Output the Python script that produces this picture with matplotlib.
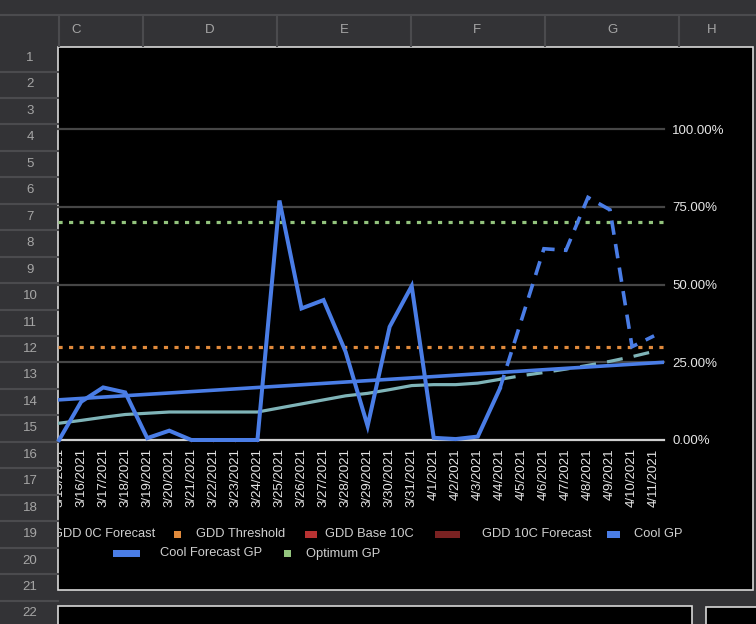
import numpy as np
import matplotlib
matplotlib.use("Agg")
import matplotlib.pyplot as plt
from matplotlib.patches import Rectangle
from matplotlib.ticker import FuncFormatter

plt.rcParams['font.family'] = ['Liberation Sans', 'DejaVu Sans']

# ---- data ----
dates = ['3/15/2021', '3/16/2021', '3/17/2021', '3/18/2021', '3/19/2021', '3/20/2021',
         '3/21/2021', '3/22/2021', '3/23/2021', '3/24/2021', '3/25/2021', '3/26/2021',
         '3/27/2021', '3/28/2021', '3/29/2021', '3/30/2021', '3/31/2021', '4/1/2021',
         '4/2/2021', '4/3/2021', '4/4/2021', '4/5/2021', '4/6/2021', '4/7/2021',
         '4/8/2021', '4/9/2021', '4/10/2021', '4/11/2021']
nan = np.nan

cool_gp = [0.000, 0.123, 0.169, 0.153, 0.006, 0.030, 0.000, 0.000, 0.000, 0.000,
           0.770, 0.423, 0.450, 0.284, 0.045, 0.364, 0.495, 0.007, 0.003, 0.011,
           0.165, nan, nan, nan, nan, nan, nan, nan]
cool_forecast_gp = [nan] * 20 + [0.165, 0.390, 0.615, 0.610, 0.780, 0.740, 0.300, 0.335]
gdd_0c = [0.054, 0.063, 0.073, 0.082, 0.086, 0.090, 0.090, 0.090, 0.090, 0.090,
          0.103, 0.116, 0.129, 0.142, 0.150, 0.162, 0.175, 0.178, 0.178, 0.183,
          0.195, nan, nan, nan, nan, nan, nan, nan]
gdd_0c_forecast = [nan] * 20 + [0.195, 0.207, 0.217, 0.228, 0.240, 0.253, 0.268, 0.285]
gdd_base_10c = [nan] * 6 + [0.0, 0.0, 0.0, 0.0] + [nan] * 18
gdd_threshold = 0.30
optimum_gp = 0.70
cool_trend_ends = [0.129, 0.250]   # linear trendline at the left / right plot edge

legend_row1 = ['GDD 0C Forecast', 'GDD Threshold', 'GDD Base 10C', 'GDD 10C Forecast', 'Cool GP']
legend_row2 = ['Cool Forecast GP', 'Optimum GP']

# colours
BLUE = '#4a7de6'
TEAL = '#7fb4b8'
ORANGE = '#e08a3c'
GREEN = '#93c47d'
RED = '#b83232'
DARKRED = '#7a2222'
SHEET_BG = '#333336'
SHEET_LINE = '#4b4b4e'
SHEET_TXT = '#a6a6a6'

W, H = 756, 624
fig = plt.figure(figsize=(W / 100, H / 100), dpi=100, facecolor=SHEET_BG)

# ==========================================
# spreadsheet background (pixel coordinates)
# ==========================================
bg = fig.add_axes([0, 0, 1, 1], zorder=0)
bg.set_xlim(0, W)
bg.set_ylim(H, 0)
bg.axis('off')

bg.plot([0, W], [15, 15], color=SHEET_LINE, lw=1.5)
for xs in [59, 143, 277, 411, 545, 679]:
    bg.plot([xs, xs], [15, 46], color=SHEET_LINE, lw=1.5)
for letter, xc in zip(['C', 'D', 'E', 'F', 'G', 'H'], [76, 210, 344, 477, 612, 712]):
    bg.text(xc, 30, letter, ha='center', va='center', color=SHEET_TXT, fontsize=9.5)

for k in range(22):
    yc = 58 + 26.45 * k
    bg.text(30, yc, str(k + 1), ha='center', va='center', color=SHEET_TXT, fontsize=9.5)
    bg.plot([0, 58], [yc + 13.5, yc + 13.5], color=SHEET_LINE, lw=1.5)

# chart box and the boxes below it
bg.add_patch(Rectangle((58, 47), 695, 543, facecolor='black', edgecolor='#d8d8d8', lw=1.2))
bg.add_patch(Rectangle((58, 606), 634, 40, facecolor='black', edgecolor='#d8d8d8', lw=1.2))
bg.add_patch(Rectangle((706, 607), 60, 40, facecolor='black', edgecolor='#d8d8d8', lw=1.2))
chart_clip = Rectangle((58.6, 47), 695, 543, transform=bg.transData)

# ---- legend (Google Sheets style, first entry scrolled off) ----
t = bg.text(155, 534, legend_row1[0], ha='right', va='center', color='#d0d0d0', fontsize=9.3)
t.set_clip_on(True)
t.set_clip_path(chart_clip)
row1_swatch = [(ORANGE, 174, 7), (RED, 305, 12), (DARKRED, 435, 25), (BLUE, 607, 13)]
row1_text_x = [196, 325, 482, 634]
for (c, x0, w), name, tx in zip(row1_swatch, legend_row1[1:], row1_text_x):
    bg.add_patch(Rectangle((x0, 530.5), w, 7, facecolor=c, edgecolor='none'))
    bg.text(tx, 534, name, ha='left', va='center', color='#d0d0d0', fontsize=9.3)
row2_swatch = [(BLUE, 113, 27), (GREEN, 284, 7)]
row2_text_x = [160, 306]
for (c, x0, w), name, tx in zip(row2_swatch, legend_row2, row2_text_x):
    bg.add_patch(Rectangle((x0, 550), w, 7, facecolor=c, edgecolor='none'))
    bg.text(tx, 553.5, name, ha='left', va='center', color='#d0d0d0', fontsize=9.3)

# ==========================================
# the line chart
# ==========================================
ax = fig.add_axes([58 / W, 1 - 440 / H, (664 - 58) / W, (440 - 129) / H], zorder=1)
ax.set_facecolor('none')
x = np.arange(len(dates))
ax.set_xlim(-0.05, 27.45)
ax.set_ylim(0, 1.0)

for gv in [0.25, 0.5, 0.75, 1.0]:
    ax.axhline(gv, color='#464646', lw=1.6, zorder=1, clip_on=False)
ax.axhline(0, color='#cfcfcf', lw=1.6, zorder=2, clip_on=False)

ax.axhline(gdd_threshold, color=ORANGE, lw=2.3, linestyle=(0, (1.3, 2.0)), zorder=3)
ax.axhline(optimum_gp, color=GREEN, lw=2.3, linestyle=(0, (1.3, 2.0)), zorder=3)

ax.plot(x, gdd_base_10c, color='#d9707a', lw=1.0, marker='v', ms=3, mew=0,
        zorder=3, clip_on=False)
ax.plot(x, gdd_0c, color=TEAL, lw=2.3, zorder=4, solid_joinstyle='round')
ax.plot(x, gdd_0c_forecast, color=TEAL, lw=2.3, linestyle=(0, (5, 3.5)), zorder=4)
ax.plot(ax.get_xlim(), cool_trend_ends, color=BLUE, lw=2.6, zorder=5)
ax.plot(x, cool_gp, color=BLUE, lw=2.9, zorder=6, clip_on=False, solid_joinstyle='miter')
ax.plot(x, cool_forecast_gp, color=BLUE, lw=2.6, linestyle=(0, (4, 2.6)), zorder=6,
        dash_joinstyle='miter')

for s in ax.spines.values():
    s.set_visible(False)

ax.yaxis.tick_right()
ax.set_yticks([0, 0.25, 0.5, 0.75, 1.0])
ax.yaxis.set_major_formatter(FuncFormatter(lambda v, p: f"{v * 100:.2f}%"))
ax.tick_params(axis='y', length=0, pad=6, labelsize=9.5, labelcolor='#e6e6e6')

ax.set_xticks(x)
ax.set_xticklabels(dates, rotation=90, va='top', ha='center')
ax.tick_params(axis='x', length=0, pad=6, labelsize=9.5, labelcolor='#e6e6e6')
for lbl in ax.get_xticklabels():
    lbl.set_clip_on(True)
    lbl.set_clip_path(chart_clip)

fig.savefig('out.png', dpi=100, facecolor=SHEET_BG)
